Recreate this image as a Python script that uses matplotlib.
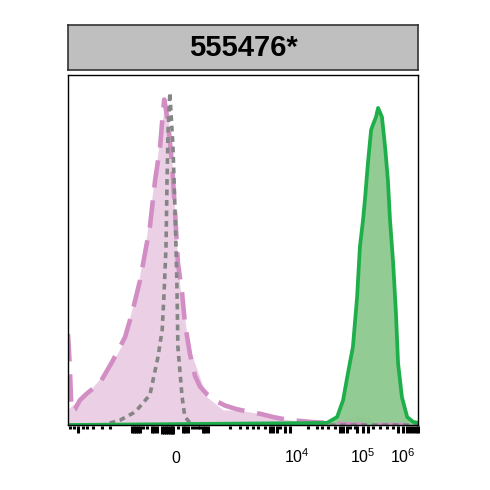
import numpy as np
import matplotlib
matplotlib.use("Agg")
import matplotlib.pyplot as plt

plt.rcParams['font.family'] = ['Liberation Sans', 'DejaVu Sans']
plt.rcParams['mathtext.fontset'] = 'custom'
plt.rcParams['mathtext.rm'] = 'Liberation Sans'
plt.rcParams['mathtext.it'] = 'Liberation Sans'

title = "555476*"

# x axis in transformed channel units (0..1000)
tick_pos = [309, 654, 843, 957]
tick_lab = ["0", "$10^4$", "$10^5$", "$10^6$"]

# pink filled sample
pink_fill_x = [0, 6, 71, 120, 157, 197, 220, 234, 249, 263, 275, 283, 287, 297, 311,
               320, 334, 343, 349, 369, 397, 443, 483, 540, 597, 671, 740, 800, 850, 1000]
pink_fill_y = [0.045, 0.051, 0.109, 0.166, 0.234, 0.386, 0.509, 0.606, 0.72, 0.823, 0.91,
               0.905, 0.87, 0.75, 0.509, 0.394, 0.3, 0.234, 0.214, 0.157, 0.08, 0.043,
               0.043, 0.034, 0.02, 0.009, 0.006, 0.003, 0, 0]

# pink dashed sample
pink_dash_x = [0, 5, 10, 20, 34, 54, 91, 126, 163, 183, 206, 220, 234, 249, 263, 271, 275,
               280, 286, 297, 306, 314, 326, 334, 349, 363, 377, 397, 420, 450, 483, 520,
               549, 590, 626, 691, 740, 800, 860, 1000]
pink_dash_y = [0.26, 0.17, 0.04, 0.045, 0.071, 0.09, 0.12, 0.18, 0.251, 0.32, 0.414, 0.491,
               0.566, 0.7, 0.794, 0.891, 0.93, 0.9, 0.863, 0.749, 0.606, 0.463, 0.377,
               0.291, 0.2, 0.14, 0.11, 0.088, 0.07, 0.055, 0.045, 0.037, 0.032, 0.022,
               0.015, 0.009, 0.006, 0.002, 0, 0]

# grey dotted sample
grey_x = [0, 100, 149, 186, 197, 234, 257, 269, 274, 280, 283, 286, 291, 300, 306, 311,
          314, 326, 334, 349, 363, 1000]
grey_y = [0, 0, 0.014, 0.034, 0.043, 0.086, 0.194, 0.271, 0.366, 0.509, 0.7, 0.843, 0.95,
          0.794, 0.606, 0.414, 0.223, 0.08, 0.023, 0.006, 0, 0]

# small grey filled hump
hump_x = [760, 780, 800, 826, 850, 870, 891]
hump_y = [0, 0.012, 0.02, 0.026, 0.022, 0.012, 0]

# green sample
green_x = [0, 740, 769, 786, 800, 814, 826, 834, 843, 849, 857, 866, 871, 880, 886, 897,
           906, 914, 920, 929, 937, 943, 954, 969, 986, 1000]
green_y = [0, 0.006, 0.023, 0.071, 0.149, 0.223, 0.366, 0.509, 0.586, 0.651, 0.749, 0.843,
           0.857, 0.88, 0.906, 0.88, 0.794, 0.7, 0.586, 0.463, 0.32, 0.177, 0.08, 0.023,
           0.009, 0.006]

# rug along the bottom
rug_x = [6, 17, 29, 43, 54, 71, 97, 120, 183, 189, 194, 200, 206, 214, 226, 240, 246, 254,
         269, 274, 280, 286, 291, 297, 300, 314, 329, 334, 343, 354, 363, 371, 377, 386,
         391, 400, 463, 491, 511, 529, 543, 563, 577, 586, 597, 606, 620, 634, 686, 711,
         726, 743, 763, 777, 786, 797, 806, 820, 826, 843, 857, 871, 891, 911, 929, 943,
         957, 969, 977, 986, 994, 1000]
rug_tall = [0, 0, 1, 0, 0, 0, 0, 0, 1, 1, 1, 1, 1, 0, 0, 1, 1, 1,
            2, 2, 2, 2, 2, 2, 2, 0, 1, 1, 1, 0, 0, 0, 0, 1,
            1, 1, 0, 0, 0, 0, 0, 0, 1, 1, 1, 0, 1, 1, 0, 0,
            0, 0, 0, 1, 1, 1, 0, 0, 1, 1, 1, 0, 0, 0, 0, 1,
            1, 1, 1, 1, 1, 1]

fig = plt.figure(figsize=(4.9, 4.9), dpi=100)
ax = fig.add_axes([68/490, 65/490, 350/490, 350/490])
strip = fig.add_axes([68/490, 420/490, 350/490, 45/490])

strip.set_facecolor("#bfbfbf")
strip.set_xticks([])
strip.set_yticks([])
for s in strip.spines.values():
    s.set_color("#333333")
    s.set_linewidth(1.2)
strip.text(0.5, 0.5, title, ha="center", va="center", fontsize=21,
           fontweight="bold", transform=strip.transAxes)

ax.fill_between(pink_fill_x, pink_fill_y, color="#ebcfe4", lw=0)
ax.fill_between(hump_x, hump_y, color="#9a9a9a", alpha=0.55, lw=0)
ax.fill_between(green_x, green_y, color="#8cc98e", lw=0, alpha=0.95)
ax.plot(pink_dash_x, pink_dash_y, color="#d28ec4", lw=3.3, dashes=(6, 2.8))
ax.plot(grey_x, grey_y, color="#858585", lw=2.6, dashes=(1.6, 1.3))
ax.plot(green_x, green_y, color="#1faf4a", lw=2.7, solid_joinstyle="round")

heights = np.array([0.012, 0.022, 0.027])[np.array(rug_tall)]
ax.vlines(rug_x, -heights, -0.003, color="black", lw=2.2, clip_on=False)

ax.set_xlim(0, 1000)
ax.set_ylim(0, 1)
ax.set_yticks([])
ax.set_xticks(tick_pos, labels=tick_lab)
ax.tick_params(axis="x", length=0, pad=27, labelsize=11.5)
for lbl in ax.get_xticklabels():
    lbl.set_verticalalignment("baseline")
for s in ax.spines.values():
    s.set_color("black")
    s.set_linewidth(1)

fig.savefig("out.png", dpi=100)
